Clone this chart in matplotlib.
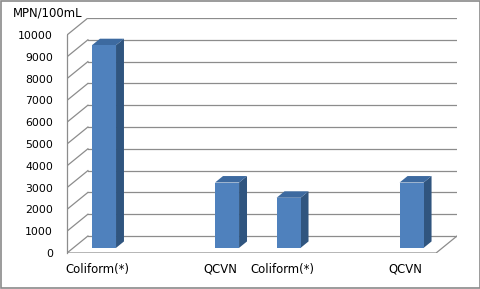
"""Coliform vs QCVN 3D-style bar chart (Excel look)."""

import matplotlib

matplotlib.use("Agg")
import matplotlib.pyplot as plt
from matplotlib.patches import Polygon, Rectangle

categories = ["Coliform(*)", "QCVN", "Coliform(*)", "QCVN"]
values = [9300, 3000, 2300, 3000]
slots = [0, 2, 3, 5]  # category slot of each bar, 6 slots in all
yticks = list(range(0, 10001, 1000))
unit_label = "MPN/100mL"

N_SLOTS = 6
DX, DY = 0.34, 780  # depth offset of the back wall (slot units, value units)
BAR_W = 0.39
BAR_F0, BAR_F1 = 0.30, 0.68  # bar depth range as fraction of full depth
GRID = "#8c8c8c"
FRONT, SIDE, TOP = "#4f81bd", "#30557f", "#3d6aa0"

plt.rcParams["font.family"] = ["DejaVu Sans"]
fig = plt.figure(figsize=(4.81, 2.89), dpi=100)
W, H = 481, 289
ax = fig.add_axes([67 / W, (H - 253) / H, 390 / W, 235 / H])
x0, x1 = -0.5, N_SLOTS - 0.5
ax.set_xlim(x0, x1 + DX)
ax.set_ylim(0, yticks[-1] + DY)

# walls: back grid lines and left-wall diagonals
for v in yticks:
    ax.plot([x0 + DX, x1 + DX], [v + DY, v + DY], color=GRID, lw=0.9, zorder=1)
    ax.plot([x0, x0 + DX], [v, v + DY], color=GRID, lw=0.9, zorder=1)
# floor outline
ax.plot([x0, x1, x1 + DX], [0, 0, DY], color=GRID, lw=0.9, zorder=1)

for s, v in zip(slots, values):
    fx = s + BAR_F0 * DX
    fy = BAR_F0 * DY
    dx = (BAR_F1 - BAR_F0) * DX
    dy = (BAR_F1 - BAR_F0) * DY
    l, r = fx - BAR_W / 2, fx + BAR_W / 2
    ax.add_patch(Polygon([(r, fy), (r + dx, fy + dy), (r + dx, fy + v + dy), (r, fy + v)],
                         closed=True, facecolor=SIDE, edgecolor="none", zorder=3))
    ax.add_patch(Polygon([(l, fy + v), (r, fy + v), (r + dx, fy + v + dy), (l + dx, fy + v + dy)],
                         closed=True, facecolor=TOP, edgecolor="none", zorder=3))
    ax.add_patch(Rectangle((l, fy), BAR_W, v, facecolor=FRONT, edgecolor="none", zorder=4))

for side in ["top", "right", "bottom"]:
    ax.spines[side].set_visible(False)
ax.spines["left"].set_bounds(0, yticks[-1])
ax.spines["left"].set_color(GRID)
ax.spines["left"].set_linewidth(0.9)

ax.set_yticks(yticks)
ax.set_yticklabels([str(t) for t in yticks])
ax.set_xticks(slots)
ax.set_xticklabels(categories)
ax.tick_params(axis="y", length=0, pad=10, labelsize=7.8)
ax.tick_params(axis="x", length=0, pad=7, labelsize=8.4)
ax.patch.set_visible(False)

fig.text(13 / W, 1 - 13.5 / H, unit_label, fontsize=8.4, va="center", ha="left")
fig.patches.append(Rectangle((0.002, 0.003), 0.996, 0.994, transform=fig.transFigure,
                             fill=False, edgecolor="#8a8a8a", lw=1.2))

fig.savefig("out.png", dpi=100)
